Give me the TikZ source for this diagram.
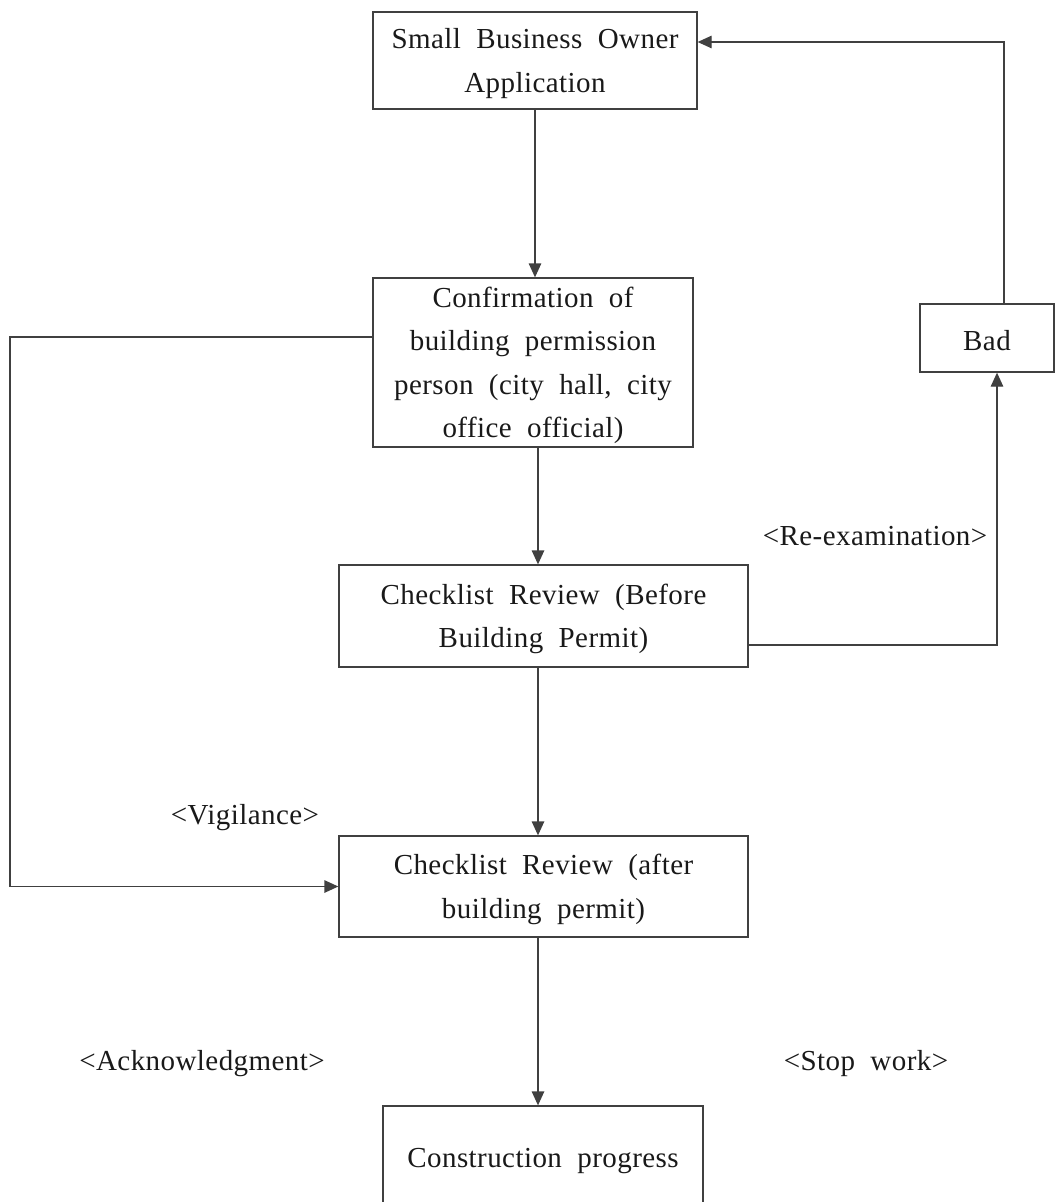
\documentclass[tikz,border=0pt]{standalone}
\usepackage{fontspec}
\setmainfont[LetterSpace=1.5,WordSpace=2]{Liberation Serif}
\usetikzlibrary{arrows.meta}
\begin{document}
\begin{tikzpicture}[x=1pt,y=-1pt,
  txt/.style={font=\fontsize{29}{43.5}\selectfont, align=center, inner sep=0pt, text=black!90},
  box/.style={draw=black!75, line width=1.3pt, inner sep=0pt},
  lbl/.style={label={[txt,yshift=-3pt]center:{#1}}},
  conn/.style={draw=black!75, line width=1.3pt},
  arr/.style={conn, -{Triangle[length=14pt,width=12.5pt]}}]
\useasboundingbox (0,0) rectangle (1055,1202);
\node[box, minimum width=324pt, minimum height=97pt, lbl={Small Business Owner\\Application}] (app) at (535,60.5) {};
\node[box, minimum width=320pt, minimum height=169pt, lbl={Confirmation of\\building permission\\person (city hall, city\\office official)}] (conf) at (533,362.5) {};
\node[box, minimum width=409pt, minimum height=102pt, lbl={Checklist Review (Before\\Building Permit)}] (chk1) at (543.5,616) {};
\node[box, minimum width=134pt, minimum height=68pt, lbl={Bad}] (bad) at (987,338) {};
\node[box, minimum width=409pt, minimum height=101pt, lbl={Checklist Review (after\\building permit)}] (chk2) at (543.5,886.5) {};
\node[box, minimum width=320pt, minimum height=104pt, lbl={Construction progress}] (prog) at (543,1158) {};
\node[txt, yshift=-3pt] (reex) at (875,533) {<Re-examination>};
\node[txt, yshift=-3pt] (vig) at (245,815) {<Vigilance>};
\node[txt, yshift=-3pt] (ack) at (202,1061) {<Acknowledgment>};
\node[txt, yshift=-3pt] (stop) at (866,1061) {<Stop work>};
\coordinate (lc) at (10,337);
\draw[arr] (app.south) -- (app.south |- conf.north);
\draw[arr] ([xshift=5pt]conf.south) -- ([xshift=5pt]conf.south |- chk1.north);
\draw[arr] ([xshift=-5.5pt]chk1.south) -- ([xshift=-5.5pt]chk1.south |- chk2.north);
\draw[arr] ([xshift=-5.5pt]chk2.south) -- ([xshift=-5.5pt]chk2.south |- prog.north);
\draw[arr] ([yshift=-29pt]chk1.east) -| ([xshift=10pt]bad.south);
\draw[arr] ([xshift=17pt]bad.north) |- ([yshift=18.5pt]app.east);
\draw[arr] ([yshift=25.5pt]conf.west) -- (lc) |- (chk2.west);
\end{tikzpicture}
\end{document}
